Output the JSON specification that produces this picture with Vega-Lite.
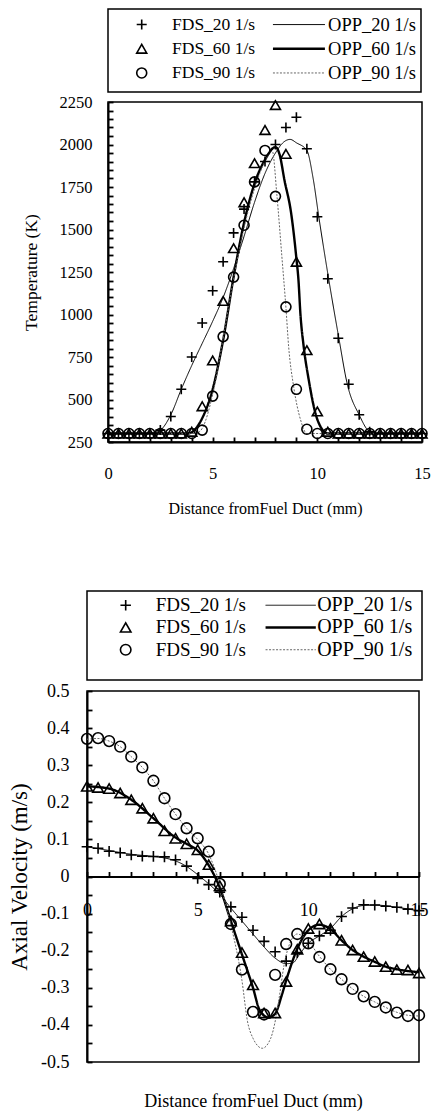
{
  "$schema": "https://vega.github.io/schema/vega-lite/v6.json",
  "padding": {"left": 2, "top": 3, "right": 2, "bottom": 0},
  "config": {
    "font": "Liberation Serif",
    "view": {"stroke": "black", "strokeWidth": 1.5},
    "axis": {"grid": false, "domainColor": "black", "domainWidth": 2, "tickColor": "black", "tickWidth": 1.8, "labelColor": "black", "titleColor": "black", "titleFontWeight": "normal", "labelFont": "Liberation Serif", "titleFont": "Liberation Serif", "labelFlush": false, "labelOverlap": false},
    "text": {"font": "Liberation Serif", "color": "black"}
  },
  "datasets": {
    "legend": [
      {"s": "20", "fds": "FDS_20 1/s", "opp": "OPP_20 1/s"},
      {"s": "60", "fds": "FDS_60 1/s", "opp": "OPP_60 1/s"},
      {"s": "90", "fds": "FDS_90 1/s", "opp": "OPP_90 1/s"}
    ],
    "blank": [{"k": 1}],
    "tFDS": [
      {"x":0,"T":300,"s":"20"},{"x":0.5,"T":300,"s":"20"},{"x":1,"T":300,"s":"20"},{"x":1.5,"T":300,"s":"20"},{"x":2,"T":300,"s":"20"},{"x":2.5,"T":320,"s":"20"},{"x":3,"T":400,"s":"20"},{"x":3.5,"T":560,"s":"20"},{"x":4,"T":750,"s":"20"},{"x":4.5,"T":950,"s":"20"},{"x":5,"T":1140,"s":"20"},{"x":5.5,"T":1310,"s":"20"},{"x":6,"T":1480,"s":"20"},{"x":6.5,"T":1620,"s":"20"},{"x":7,"T":1780,"s":"20"},{"x":7.5,"T":1900,"s":"20"},{"x":8,"T":2000,"s":"20"},{"x":8.5,"T":2100,"s":"20"},{"x":9,"T":2160,"s":"20"},{"x":9.5,"T":1975,"s":"20"},{"x":10,"T":1575,"s":"20"},{"x":10.5,"T":1210,"s":"20"},{"x":11,"T":860,"s":"20"},{"x":11.5,"T":590,"s":"20"},{"x":12,"T":410,"s":"20"},{"x":12.5,"T":310,"s":"20"},{"x":13,"T":300,"s":"20"},{"x":13.5,"T":300,"s":"20"},{"x":14,"T":300,"s":"20"},{"x":14.5,"T":300,"s":"20"},{"x":15,"T":300,"s":"20"},
      {"x":0,"T":300,"s":"60"},{"x":0.5,"T":300,"s":"60"},{"x":1,"T":300,"s":"60"},{"x":1.5,"T":300,"s":"60"},{"x":2,"T":300,"s":"60"},{"x":2.5,"T":300,"s":"60"},{"x":3,"T":300,"s":"60"},{"x":3.5,"T":300,"s":"60"},{"x":4,"T":310,"s":"60"},{"x":4.5,"T":460,"s":"60"},{"x":5,"T":730,"s":"60"},{"x":5.5,"T":1080,"s":"60"},{"x":6,"T":1390,"s":"60"},{"x":6.5,"T":1660,"s":"60"},{"x":7,"T":1890,"s":"60"},{"x":7.5,"T":2085,"s":"60"},{"x":8,"T":2232,"s":"60"},{"x":8.5,"T":1945,"s":"60"},{"x":9,"T":1310,"s":"60"},{"x":9.5,"T":790,"s":"60"},{"x":10,"T":430,"s":"60"},{"x":10.5,"T":310,"s":"60"},{"x":11,"T":300,"s":"60"},{"x":11.5,"T":300,"s":"60"},{"x":12,"T":300,"s":"60"},{"x":12.5,"T":300,"s":"60"},{"x":13,"T":300,"s":"60"},{"x":13.5,"T":300,"s":"60"},{"x":14,"T":300,"s":"60"},{"x":14.5,"T":300,"s":"60"},{"x":15,"T":300,"s":"60"},
      {"x":0,"T":300,"s":"90"},{"x":0.5,"T":300,"s":"90"},{"x":1,"T":300,"s":"90"},{"x":1.5,"T":300,"s":"90"},{"x":2,"T":300,"s":"90"},{"x":2.5,"T":300,"s":"90"},{"x":3,"T":300,"s":"90"},{"x":3.5,"T":300,"s":"90"},{"x":4,"T":300,"s":"90"},{"x":4.5,"T":320,"s":"90"},{"x":5,"T":520,"s":"90"},{"x":5.5,"T":870,"s":"90"},{"x":6,"T":1220,"s":"90"},{"x":6.5,"T":1525,"s":"90"},{"x":7,"T":1780,"s":"90"},{"x":7.5,"T":1965,"s":"90"},{"x":8,"T":1695,"s":"90"},{"x":8.5,"T":1045,"s":"90"},{"x":9,"T":560,"s":"90"},{"x":9.5,"T":325,"s":"90"},{"x":10,"T":300,"s":"90"},{"x":10.5,"T":300,"s":"90"},{"x":11,"T":300,"s":"90"},{"x":11.5,"T":300,"s":"90"},{"x":12,"T":300,"s":"90"},{"x":12.5,"T":300,"s":"90"},{"x":13,"T":300,"s":"90"},{"x":13.5,"T":300,"s":"90"},{"x":14,"T":300,"s":"90"},{"x":14.5,"T":300,"s":"90"},{"x":15,"T":300,"s":"90"}
    ],
    "tOPP": [
      {"x":0,"T":300,"s":"20"},{"x":2,"T":300,"s":"20"},{"x":2.5,"T":320,"s":"20"},{"x":3,"T":410,"s":"20"},{"x":3.5,"T":560,"s":"20"},{"x":4,"T":700,"s":"20"},{"x":4.5,"T":830,"s":"20"},{"x":5,"T":960,"s":"20"},{"x":5.5,"T":1100,"s":"20"},{"x":6,"T":1270,"s":"20"},{"x":6.5,"T":1460,"s":"20"},{"x":7,"T":1660,"s":"20"},{"x":7.5,"T":1830,"s":"20"},{"x":8,"T":1950,"s":"20"},{"x":8.4,"T":2015,"s":"20"},{"x":8.7,"T":2030,"s":"20"},{"x":9,"T":2010,"s":"20"},{"x":9.5,"T":1965,"s":"20"},{"x":9.8,"T":1800,"s":"20"},{"x":10.07,"T":1575,"s":"20"},{"x":10.55,"T":1203,"s":"20"},{"x":11.03,"T":860,"s":"20"},{"x":11.43,"T":591,"s":"20"},{"x":12,"T":409,"s":"20"},{"x":12.5,"T":310,"s":"20"},{"x":12.8,"T":300,"s":"20"},{"x":15,"T":300,"s":"20"},
      {"x":0,"T":300,"s":"60"},{"x":3.8,"T":300,"s":"60"},{"x":4.2,"T":330,"s":"60"},{"x":4.5,"T":390,"s":"60"},{"x":5,"T":560,"s":"60"},{"x":5.5,"T":850,"s":"60"},{"x":6,"T":1220,"s":"60"},{"x":6.5,"T":1540,"s":"60"},{"x":7,"T":1770,"s":"60"},{"x":7.5,"T":1910,"s":"60"},{"x":8,"T":1985,"s":"60"},{"x":8.2,"T":1940,"s":"60"},{"x":8.43,"T":1790,"s":"60"},{"x":8.75,"T":1595,"s":"60"},{"x":9,"T":1330,"s":"60"},{"x":9.1,"T":1200,"s":"60"},{"x":9.19,"T":1007,"s":"60"},{"x":9.35,"T":810,"s":"60"},{"x":9.59,"T":615,"s":"60"},{"x":9.91,"T":419,"s":"60"},{"x":10.2,"T":330,"s":"60"},{"x":10.5,"T":300,"s":"60"},{"x":15,"T":300,"s":"60"},
      {"x":0,"T":300,"s":"90"},{"x":4.2,"T":300,"s":"90"},{"x":4.5,"T":330,"s":"90"},{"x":5,"T":530,"s":"90"},{"x":5.5,"T":860,"s":"90"},{"x":6,"T":1210,"s":"90"},{"x":6.5,"T":1510,"s":"90"},{"x":7,"T":1740,"s":"90"},{"x":7.5,"T":1900,"s":"90"},{"x":7.85,"T":1960,"s":"90"},{"x":8.07,"T":1700,"s":"90"},{"x":8.3,"T":1350,"s":"90"},{"x":8.5,"T":1040,"s":"90"},{"x":8.63,"T":810,"s":"90"},{"x":8.87,"T":575,"s":"90"},{"x":9.2,"T":380,"s":"90"},{"x":9.5,"T":300,"s":"90"},{"x":15,"T":300,"s":"90"}
    ],
    "vFDS": [
      {"x":0,"v":0.08,"s":"20"},{"x":0.5,"v":0.076,"s":"20"},{"x":1,"v":0.068,"s":"20"},{"x":1.5,"v":0.064,"s":"20"},{"x":2,"v":0.058,"s":"20"},{"x":2.5,"v":0.055,"s":"20"},{"x":3,"v":0.054,"s":"20"},{"x":3.5,"v":0.053,"s":"20"},{"x":4,"v":0.045,"s":"20"},{"x":4.5,"v":0.028,"s":"20"},{"x":5,"v":-0.005,"s":"20"},{"x":5.5,"v":-0.022,"s":"20"},{"x":6,"v":-0.042,"s":"20"},{"x":6.5,"v":-0.082,"s":"20"},{"x":7,"v":-0.11,"s":"20"},{"x":7.5,"v":-0.145,"s":"20"},{"x":8,"v":-0.175,"s":"20"},{"x":8.5,"v":-0.203,"s":"20"},{"x":9,"v":-0.228,"s":"20"},{"x":9.5,"v":-0.205,"s":"20"},{"x":10,"v":-0.18,"s":"20"},{"x":10.5,"v":-0.16,"s":"20"},{"x":11,"v":-0.145,"s":"20"},{"x":11.5,"v":-0.108,"s":"20"},{"x":12,"v":-0.085,"s":"20"},{"x":12.5,"v":-0.076,"s":"20"},{"x":13,"v":-0.077,"s":"20"},{"x":13.5,"v":-0.08,"s":"20"},{"x":14,"v":-0.083,"s":"20"},{"x":14.5,"v":-0.088,"s":"20"},{"x":15,"v":-0.092,"s":"20"},
      {"x":0,"v":0.243,"s":"60"},{"x":0.5,"v":0.24,"s":"60"},{"x":1,"v":0.237,"s":"60"},{"x":1.5,"v":0.225,"s":"60"},{"x":2,"v":0.207,"s":"60"},{"x":2.5,"v":0.184,"s":"60"},{"x":3,"v":0.157,"s":"60"},{"x":3.5,"v":0.123,"s":"60"},{"x":4,"v":0.103,"s":"60"},{"x":4.5,"v":0.088,"s":"60"},{"x":5,"v":0.072,"s":"60"},{"x":5.5,"v":0.032,"s":"60"},{"x":6,"v":-0.025,"s":"60"},{"x":6.5,"v":-0.12,"s":"60"},{"x":7,"v":-0.205,"s":"60"},{"x":7.5,"v":-0.292,"s":"60"},{"x":8,"v":-0.368,"s":"60"},{"x":8.5,"v":-0.368,"s":"60"},{"x":9,"v":-0.283,"s":"60"},{"x":9.5,"v":-0.196,"s":"60"},{"x":10,"v":-0.14,"s":"60"},{"x":10.5,"v":-0.128,"s":"60"},{"x":11,"v":-0.14,"s":"60"},{"x":11.5,"v":-0.172,"s":"60"},{"x":12,"v":-0.198,"s":"60"},{"x":12.5,"v":-0.216,"s":"60"},{"x":13,"v":-0.229,"s":"60"},{"x":13.5,"v":-0.243,"s":"60"},{"x":14,"v":-0.251,"s":"60"},{"x":14.5,"v":-0.252,"s":"60"},{"x":15,"v":-0.26,"s":"60"},
      {"x":0,"v":0.371,"s":"90"},{"x":0.5,"v":0.373,"s":"90"},{"x":1,"v":0.365,"s":"90"},{"x":1.5,"v":0.35,"s":"90"},{"x":2,"v":0.323,"s":"90"},{"x":2.5,"v":0.294,"s":"90"},{"x":3,"v":0.258,"s":"90"},{"x":3.5,"v":0.211,"s":"90"},{"x":4,"v":0.168,"s":"90"},{"x":4.5,"v":0.13,"s":"90"},{"x":5,"v":0.103,"s":"90"},{"x":5.5,"v":0.067,"s":"90"},{"x":6,"v":-0.02,"s":"90"},{"x":6.5,"v":-0.128,"s":"90"},{"x":7,"v":-0.251,"s":"90"},{"x":7.5,"v":-0.365,"s":"90"},{"x":8,"v":-0.372,"s":"90"},{"x":8.5,"v":-0.265,"s":"90"},{"x":9,"v":-0.182,"s":"90"},{"x":9.5,"v":-0.155,"s":"90"},{"x":10,"v":-0.18,"s":"90"},{"x":10.5,"v":-0.217,"s":"90"},{"x":11,"v":-0.25,"s":"90"},{"x":11.5,"v":-0.277,"s":"90"},{"x":12,"v":-0.303,"s":"90"},{"x":12.5,"v":-0.323,"s":"90"},{"x":13,"v":-0.338,"s":"90"},{"x":13.5,"v":-0.353,"s":"90"},{"x":14,"v":-0.367,"s":"90"},{"x":14.5,"v":-0.376,"s":"90"},{"x":15,"v":-0.374,"s":"90"}
    ],
    "vOPP": [
      {"x":0,"v":0.08,"s":"20"},{"x":1,"v":0.07,"s":"20"},{"x":2,"v":0.06,"s":"20"},{"x":3,"v":0.054,"s":"20"},{"x":3.5,"v":0.05,"s":"20"},{"x":4,"v":0.042,"s":"20"},{"x":4.5,"v":0.027,"s":"20"},{"x":5,"v":0.005,"s":"20"},{"x":5.5,"v":-0.02,"s":"20"},{"x":6,"v":-0.048,"s":"20"},{"x":6.5,"v":-0.085,"s":"20"},{"x":7,"v":-0.12,"s":"20"},{"x":7.5,"v":-0.155,"s":"20"},{"x":8,"v":-0.19,"s":"20"},{"x":8.5,"v":-0.22,"s":"20"},{"x":9,"v":-0.235,"s":"20"},{"x":9.3,"v":-0.233,"s":"20"},{"x":9.6,"v":-0.21,"s":"20"},{"x":10,"v":-0.18,"s":"20"},{"x":10.5,"v":-0.16,"s":"20"},{"x":11,"v":-0.14,"s":"20"},{"x":11.5,"v":-0.108,"s":"20"},{"x":12,"v":-0.087,"s":"20"},{"x":12.5,"v":-0.078,"s":"20"},{"x":13,"v":-0.077,"s":"20"},{"x":14,"v":-0.083,"s":"20"},{"x":15,"v":-0.093,"s":"20"},
      {"x":0,"v":0.243,"s":"60"},{"x":1,"v":0.237,"s":"60"},{"x":2,"v":0.207,"s":"60"},{"x":3,"v":0.157,"s":"60"},{"x":4,"v":0.105,"s":"60"},{"x":4.5,"v":0.088,"s":"60"},{"x":5,"v":0.07,"s":"60"},{"x":5.5,"v":0.03,"s":"60"},{"x":6,"v":-0.03,"s":"60"},{"x":6.5,"v":-0.12,"s":"60"},{"x":7,"v":-0.21,"s":"60"},{"x":7.5,"v":-0.3,"s":"60"},{"x":7.8,"v":-0.36,"s":"60"},{"x":8.2,"v":-0.38,"s":"60"},{"x":8.5,"v":-0.37,"s":"60"},{"x":8.8,"v":-0.32,"s":"60"},{"x":9,"v":-0.28,"s":"60"},{"x":9.5,"v":-0.195,"s":"60"},{"x":10,"v":-0.145,"s":"60"},{"x":10.5,"v":-0.13,"s":"60"},{"x":11,"v":-0.142,"s":"60"},{"x":11.5,"v":-0.172,"s":"60"},{"x":12,"v":-0.198,"s":"60"},{"x":12.5,"v":-0.216,"s":"60"},{"x":13,"v":-0.23,"s":"60"},{"x":13.5,"v":-0.243,"s":"60"},{"x":14,"v":-0.25,"s":"60"},{"x":15,"v":-0.258,"s":"60"},
      {"x":0,"v":0.37,"s":"90"},{"x":0.5,"v":0.372,"s":"90"},{"x":1,"v":0.365,"s":"90"},{"x":1.5,"v":0.35,"s":"90"},{"x":2,"v":0.323,"s":"90"},{"x":2.5,"v":0.294,"s":"90"},{"x":3,"v":0.258,"s":"90"},{"x":3.5,"v":0.211,"s":"90"},{"x":4,"v":0.168,"s":"90"},{"x":4.5,"v":0.13,"s":"90"},{"x":5,"v":0.1,"s":"90"},{"x":5.5,"v":0.06,"s":"90"},{"x":6,"v":-0.02,"s":"90"},{"x":6.5,"v":-0.13,"s":"90"},{"x":7,"v":-0.28,"s":"90"},{"x":7.25,"v":-0.39,"s":"90"},{"x":7.5,"v":-0.436,"s":"90"},{"x":7.92,"v":-0.463,"s":"90"},{"x":8.3,"v":-0.436,"s":"90"},{"x":8.53,"v":-0.382,"s":"90"},{"x":8.68,"v":-0.328,"s":"90"},{"x":8.9,"v":-0.24,"s":"90"},{"x":9.2,"v":-0.175,"s":"90"},{"x":9.5,"v":-0.155,"s":"90"},{"x":10,"v":-0.175,"s":"90"},{"x":10.5,"v":-0.215,"s":"90"},{"x":11,"v":-0.25,"s":"90"},{"x":11.5,"v":-0.277,"s":"90"},{"x":12,"v":-0.303,"s":"90"},{"x":12.5,"v":-0.323,"s":"90"},{"x":13,"v":-0.338,"s":"90"},{"x":13.5,"v":-0.353,"s":"90"},{"x":14,"v":-0.366,"s":"90"},{"x":14.5,"v":-0.374,"s":"90"},{"x":15,"v":-0.376,"s":"90"}
    ]
  },
  "spacing": 67,
  "vconcat": [
    {
      "spacing": 0,
      "hconcat": [
        {"width": 19, "height": 1, "view": {"stroke": null}, "data": {"name": "blank"}, "mark": {"type": "text"}, "encoding": {"text": {"value": ""}}},
        {
          "spacing": 0,
          "vconcat": [
            {
              "width": 313, "height": 83,
              "data": {"name": "legend"},
              "encoding": {"y": {"field": "s", "type": "nominal", "scale": {"type": "point", "domain": ["20","60","90"], "padding": 0.715, "align": 0.45}, "axis": null}},
              "layer": [
                {"mark": {"type": "point", "filled": false, "stroke": "black", "strokeWidth": 1.6, "size": 100, "opacity": 1},
                 "encoding": {"x": {"datum": 10.77, "type": "quantitative", "scale": {"domain": [0,100]}, "axis": null},
                              "shape": {"field": "s", "type": "nominal", "scale": {"domain": ["20","60","90"], "range": ["M-1,0L1,0M0,-1L0,1", "triangle-up", "circle"]}, "legend": null}}},
                {"mark": {"type": "text", "align": "left", "baseline": "middle", "fontSize": 17.5},
                 "encoding": {"x": {"datum": 20.45, "type": "quantitative", "scale": {"domain": [0,100]}, "axis": null}, "text": {"field": "fds"}}},
                {"mark": {"type": "rule"},
                 "encoding": {"x": {"datum": 52.7, "type": "quantitative", "scale": {"domain": [0,100]}, "axis": null}, "x2": {"datum": 69.3},
                              "strokeWidth": {"condition": {"test": "datum.s === '60'", "value": 2.4}, "value": 1},
                              "strokeDash": {"condition": {"test": "datum.s === '90'", "value": [2,1.5]}, "value": [1,0]},
                              "color": {"condition": {"test": "datum.s === '90'", "value": "#666666"}, "value": "black"}}},
                {"mark": {"type": "text", "align": "left", "baseline": "middle", "fontSize": 18.5},
                 "encoding": {"x": {"datum": 70.3, "type": "quantitative", "scale": {"domain": [0,100]}, "axis": null}, "text": {"field": "opp"}}}
              ]
            },
            {
              "width": 314, "height": 340,
              "resolve": {"axis": {"x": "independent", "y": "independent"}},
              "layer": [
                {"data": {"name": "tOPP"},
                 "mark": {"type": "line", "interpolate": "monotone"},
                 "encoding": {
                   "x": {"field": "x", "type": "quantitative", "scale": {"domain": [0,15], "nice": false},
                         "axis": {"title": "Distance fromFuel Duct (mm)", "values": [0,5,10,15], "tickSize": 0, "labelPadding": 23, "labelOverlap": false, "labelFlush": false, "labelFontSize": 16.5, "titleFontSize": 16, "titlePadding": 19}},
                   "y": {"field": "T", "type": "quantitative", "scale": {"domain": [250,2250], "nice": false, "zero": false},
                         "axis": {"title": "Temperature (K)", "values": [250,500,750,1000,1250,1500,1750,2000,2250], "format": "d", "tickSize": 0, "labelPadding": 16, "labelOverlap": false, "labelFlush": false, "labelFontSize": 16.5, "titleFontSize": 17.5, "titlePadding": 19}},
                   "detail": {"field": "s"},
                   "strokeWidth": {"condition": {"test": "datum.s === '60'", "value": 2.4}, "value": 1},
                   "strokeDash": {"condition": {"test": "datum.s === '90'", "value": [2,1.5]}, "value": [1,0]},
                   "color": {"condition": {"test": "datum.s === '90'", "value": "#666666"}, "value": "black"}
                 }},
                {"data": {"name": "tFDS"},
                 "mark": {"type": "point", "filled": false, "stroke": "black", "strokeWidth": 1.6, "size": 100, "opacity": 1},
                 "encoding": {
                   "x": {"field": "x", "type": "quantitative",
                         "axis": {"orient": "top", "offset": -340, "title": null, "labels": false, "domain": false, "ticks": true, "tickSize": 5, "values": [0,1,2,3,4,5,6,7,8,9,10,11,12,13,14,15]}},
                   "y": {"field": "T", "type": "quantitative",
                         "axis": {"orient": "right", "offset": -314, "title": null, "labels": false, "domain": false, "ticks": true, "tickSize": 5, "values": [250,300,350,400,450,500,550,600,650,700,750,800,850,900,950,1000,1050,1100,1150,1200,1250,1300,1350,1400,1450,1500,1550,1600,1650,1700,1750,1800,1850,1900,1950,2000,2050,2100,2150,2200,2250]}},
                   "shape": {"field": "s", "type": "nominal", "scale": {"domain": ["20","60","90"], "range": ["M-1,0L1,0M0,-1L0,1", "triangle-up", "circle"]}, "legend": null}
                 }}
              ]
            }
          ]
        }
      ]
    },
    {
      "spacing": 0,
      "hconcat": [
        {"width": 5, "height": 1, "view": {"stroke": null}, "data": {"name": "blank"}, "mark": {"type": "text"}, "encoding": {"text": {"value": ""}}},
        {
          "spacing": 0,
          "vconcat": [
            {
              "width": 335, "height": 89,
              "data": {"name": "legend"},
              "encoding": {"y": {"field": "s", "type": "nominal", "scale": {"type": "point", "domain": ["20","60","90"], "padding": 1.119, "align": 0.32}, "axis": null}},
              "layer": [
                {"mark": {"type": "point", "filled": false, "stroke": "black", "strokeWidth": 1.6, "size": 110, "opacity": 1},
                 "encoding": {"x": {"datum": 11.55, "type": "quantitative", "scale": {"domain": [0,100]}, "axis": null},
                              "shape": {"field": "s", "type": "nominal", "scale": {"domain": ["20","60","90"], "range": ["M-1,0L1,0M0,-1L0,1", "triangle-up", "circle"]}, "legend": null}}},
                {"mark": {"type": "text", "align": "left", "baseline": "middle", "fontSize": 19},
                 "encoding": {"x": {"datum": 20.5, "type": "quantitative", "scale": {"domain": [0,100]}, "axis": null}, "text": {"field": "fds"}}},
                {"mark": {"type": "rule"},
                 "encoding": {"x": {"datum": 53.3, "type": "quantitative", "scale": {"domain": [0,100]}, "axis": null}, "x2": {"datum": 68.3},
                              "strokeWidth": {"condition": {"test": "datum.s === '60'", "value": 2.4}, "value": 1},
                              "strokeDash": {"condition": {"test": "datum.s === '90'", "value": [2,1.5]}, "value": [1,0]},
                              "color": {"condition": {"test": "datum.s === '90'", "value": "#666666"}, "value": "black"}}},
                {"mark": {"type": "text", "align": "left", "baseline": "middle", "fontSize": 20},
                 "encoding": {"x": {"datum": 68.7, "type": "quantitative", "scale": {"domain": [0,100]}, "axis": null}, "text": {"field": "opp"}}}
              ]
            },
            {
              "width": 332, "height": 371,
              "resolve": {"axis": {"x": "independent", "y": "independent"}},
              "layer": [
                {"data": {"name": "vOPP"},
                 "mark": {"type": "line", "interpolate": "monotone"},
                 "encoding": {
                   "x": {"field": "x", "type": "quantitative", "scale": {"domain": [0,15], "nice": false},
                         "axis": {"title": "Distance fromFuel Duct (mm)", "offset": -185.5, "values": [0,5,10,15], "tickSize": 0, "labelPadding": 25, "labelOverlap": false, "labelFlush": false, "labelFontSize": 18, "titleFontSize": 18, "titleY": 225, "titleBaseline": "middle"}},
                   "y": {"field": "v", "type": "quantitative", "scale": {"domain": [-0.5,0.5], "nice": false, "zero": false},
                         "axis": {"title": "Axial Velocity (m/s)", "values": [-0.5,-0.4,-0.3,-0.2,-0.1,0,0.1,0.2,0.3,0.4,0.5], "labelExpr": "datum.value === 0 ? '0' : replace(format(datum.value, '.1f'), '\u2212', '-')", "tickSize": 0, "labelPadding": 18, "labelOverlap": false, "labelFlush": false, "labelFontSize": 18, "titleFontSize": 23, "titlePadding": 9}},
                   "detail": {"field": "s"},
                   "strokeWidth": {"condition": {"test": "datum.s === '60'", "value": 2.4}, "value": 1},
                   "strokeDash": {"condition": {"test": "datum.s === '90'", "value": [2,1.5]}, "value": [1,0]},
                   "color": {"condition": {"test": "datum.s === '90'", "value": "#666666"}, "value": "black"}
                 }},
                {"data": {"name": "vFDS"},
                 "mark": {"type": "point", "filled": false, "stroke": "black", "strokeWidth": 1.6, "size": 115, "opacity": 1},
                 "encoding": {
                   "x": {"field": "x", "type": "quantitative",
                         "axis": {"orient": "top", "offset": -185.5, "title": null, "labels": false, "domain": false, "ticks": true, "tickSize": 5, "values": [0,1,2,3,4,5,6,7,8,9,10,11,12,13,14,15]}},
                   "y": {"field": "v", "type": "quantitative",
                         "axis": {"orient": "right", "offset": -332, "title": null, "labels": false, "domain": false, "ticks": true, "tickSize": 5, "values": [-0.5,-0.45,-0.4,-0.35,-0.3,-0.25,-0.2,-0.15,-0.1,-0.05,0,0.05,0.1,0.15,0.2,0.25,0.3,0.35,0.4,0.45,0.5]}},
                   "shape": {"field": "s", "type": "nominal", "scale": {"domain": ["20","60","90"], "range": ["M-1,0L1,0M0,-1L0,1", "triangle-up", "circle"]}, "legend": null}
                 }}
              ]
            }
          ]
        }
      ]
    }
  ]
}
